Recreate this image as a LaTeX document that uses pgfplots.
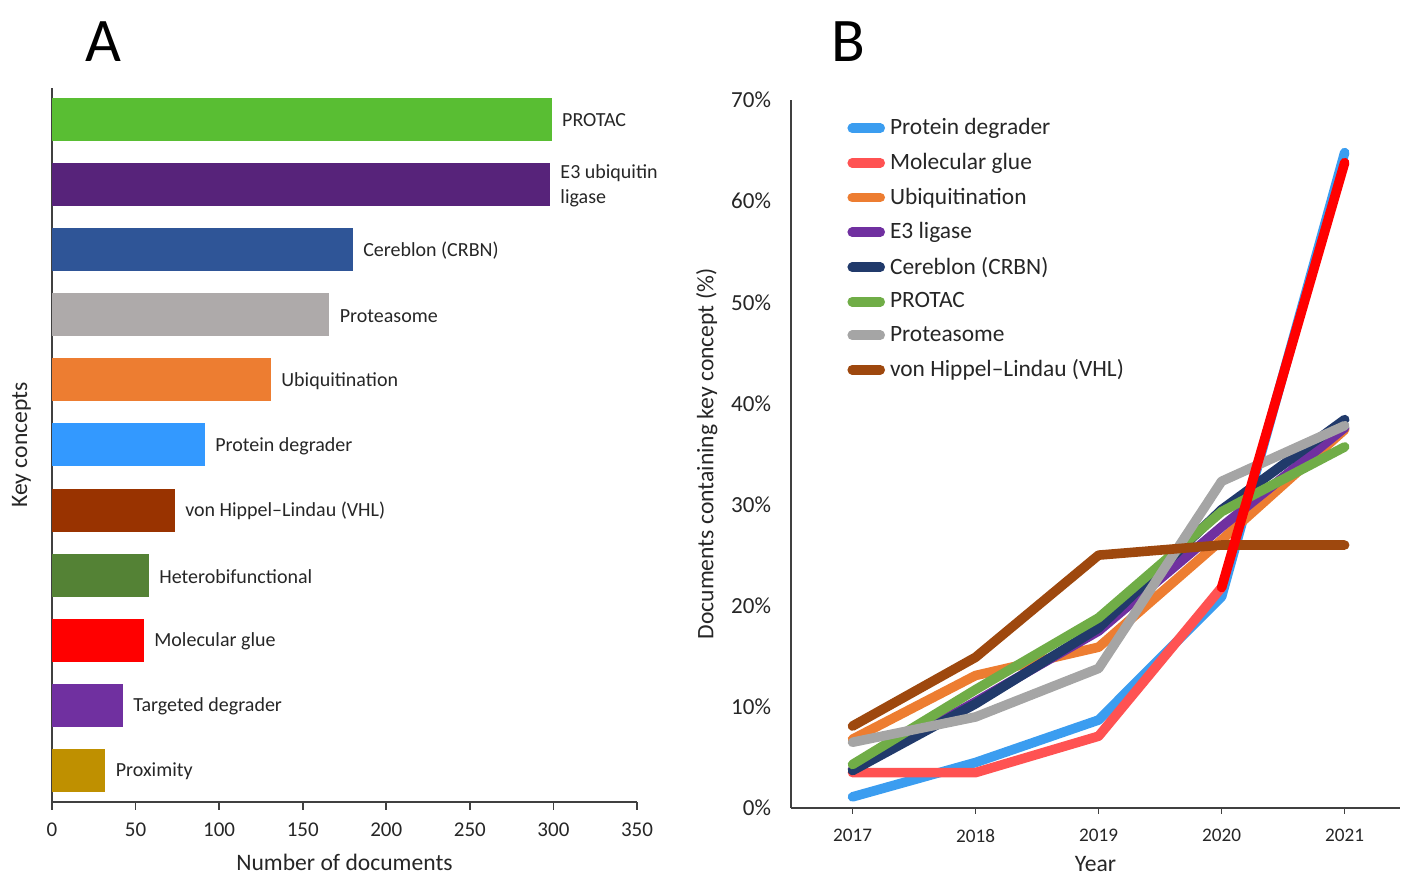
\documentclass[border=0pt]{standalone}
\usepackage{pgfplots}
\pgfplotsset{compat=1.18}
\usepackage{fontspec}
\setmainfont{Carlito}
\definecolor{axisgray}{RGB}{64,64,64}
\definecolor{labelgray}{RGB}{38,38,38}
% panel A
\definecolor{aPROTAC}{RGB}{89,190,51}
\definecolor{aE3}{RGB}{87,35,122}
\definecolor{aCRBN}{RGB}{47,85,151}
\definecolor{aProt}{RGB}{174,170,170}
\definecolor{aUbi}{RGB}{237,125,49}
\definecolor{aPD}{RGB}{51,153,255}
\definecolor{aVHL}{RGB}{153,51,0}
\definecolor{aHet}{RGB}{84,130,53}
\definecolor{aMG}{RGB}{255,0,0}
\definecolor{aTD}{RGB}{112,48,160}
\definecolor{aProx}{RGB}{191,144,0}
% panel B
\definecolor{bPD}{RGB}{59,157,240}
\definecolor{bMG}{RGB}{255,82,82}
\definecolor{bMGr}{RGB}{255,0,0}
\definecolor{bUbi}{RGB}{237,125,49}
\definecolor{bE3}{RGB}{112,48,160}
\definecolor{bCRBN}{RGB}{33,58,107}
\definecolor{bPROTAC}{RGB}{112,173,71}
\definecolor{bProt}{RGB}{165,165,165}
\definecolor{bVHL}{RGB}{158,72,14}
\begin{document}
\begin{tikzpicture}[x=1pt,y=1pt]
\useasboundingbox (0,0) rectangle (701,438);
\node[font=\fontsize{31}{31}\selectfont, inner sep=0pt] at (51.5,417) {A};
\node[font=\fontsize{31}{31}\selectfont, inner sep=0pt] at (424,417) {B};

\begin{axis}[
  at={(26pt,37pt)}, anchor=south west, scale only axis,
  width=292.5pt, height=357pt,
  xmin=0, xmax=350, ymin=-0.48, ymax=10.48,
  axis lines*=left,
  axis line style={line width=0.8pt, color=axisgray},
  xtick={0,50,...,350}, ytick=\empty,
  tick align=outside, major tick length=4pt,
  tick style={line width=0.8pt, color=axisgray},
  /pgf/number format/assume math mode=true,
  ticklabel style={font=\fontsize{10.5}{12}\selectfont, text=labelgray},
  x tick label style={yshift=-3pt},
  xlabel={Number of documents}, ylabel={Key concepts},
  label style={font=\fontsize{11.8}{14}\selectfont, text=labelgray},
  xlabel style={yshift=-2pt},
  ylabel style={yshift=3pt},
  clip=false,
]
\addplot[xbar, bar shift=0pt, bar width=0.66, draw=none, fill=aPROTAC] coordinates {(299,10)};
\addplot[xbar, bar shift=0pt, bar width=0.66, draw=none, fill=aE3] coordinates {(298,9)};
\addplot[xbar, bar shift=0pt, bar width=0.66, draw=none, fill=aCRBN] coordinates {(180,8)};
\addplot[xbar, bar shift=0pt, bar width=0.66, draw=none, fill=aProt] coordinates {(166,7)};
\addplot[xbar, bar shift=0pt, bar width=0.66, draw=none, fill=aUbi] coordinates {(131,6)};
\addplot[xbar, bar shift=0pt, bar width=0.66, draw=none, fill=aPD] coordinates {(91.5,5)};
\addplot[xbar, bar shift=0pt, bar width=0.66, draw=none, fill=aVHL] coordinates {(73.5,4)};
\addplot[xbar, bar shift=0pt, bar width=0.66, draw=none, fill=aHet] coordinates {(58,3)};
\addplot[xbar, bar shift=0pt, bar width=0.66, draw=none, fill=aMG] coordinates {(55,2)};
\addplot[xbar, bar shift=0pt, bar width=0.66, draw=none, fill=aTD] coordinates {(42.5,1)};
\addplot[xbar, bar shift=0pt, bar width=0.66, draw=none, fill=aProx] coordinates {(32,0)};
\begin{scope}[every node/.style={anchor=west, font=\fontsize{10}{12.5}\selectfont, text=labelgray, inner sep=0pt, xshift=5pt, yshift=-0.5pt}]
\node at (axis cs:299,10) {PROTAC};
\node[align=left] at (axis cs:298,9) {E3 ubiquitin\\ligase};
\node at (axis cs:180,8) {Cereblon (CRBN)};
\node at (axis cs:166,7) {Proteasome};
\node at (axis cs:131,6) {Ubiquitination};
\node at (axis cs:91.5,5) {Protein degrader};
\node at (axis cs:73.5,4) {von Hippel–Lindau (VHL)};
\node at (axis cs:58,3) {Heterobifunctional};
\node at (axis cs:55,2) {Molecular glue};
\node at (axis cs:42.5,1) {Targeted degrader};
\node at (axis cs:32,0) {Proximity};
\end{scope}
\end{axis}

\begin{axis}[
  at={(395.5pt,34pt)}, anchor=south west, scale only axis,
  width=304.5pt, height=354pt,
  xmin=2016.5, xmax=2021.45, ymin=0, ymax=70,
  axis lines*=left,
  axis line style={line width=0.8pt, color=axisgray},
  xtick={2017,2018,2019,2020,2021}, ytick={0,10,...,70},
  tick align=outside, major tick length=3pt,
  xtick style={line width=0.8pt, color=axisgray},
  ytick style={draw=none},
  /pgf/number format/assume math mode=true,
  x tick label style={/pgf/number format/1000 sep={}, font=\fontsize{9.6}{11}\selectfont, text=labelgray, yshift=-4pt},
  y tick label style={font=\fontsize{11.5}{13}\selectfont, text=labelgray, xshift=-3.5pt},
  yticklabel={\pgfmathprintnumber{\tick}\%},
  xlabel={Year}, ylabel={Documents containing key concept (\%)},
  label style={font=\fontsize{11.8}{14}\selectfont, text=labelgray},
  xlabel style={yshift=0pt},
  legend style={draw=none, fill=none, at={(0.092,0.98)}, anchor=north west,
    font=\fontsize{11.7}{14}\selectfont, text=labelgray, row sep=3.7pt, inner sep=0pt},
  legend cell align=left,
  legend image code/.code={\draw[#1, line cap=round] (2.5pt,0pt) -- (16.5pt,0pt); \path (17pt,0pt);},
  every axis plot/.append style={line width=4.8pt, line cap=round, line join=round},
]
\addplot[bPD] coordinates {(2017,1.1) (2018,4.5) (2019,8.7) (2020,20.9) (2021,64.8)};
\addlegendentry{Protein degrader}
\addplot[bMG] coordinates {(2017,3.5) (2018,3.5) (2019,7.1) (2020,21.8)};
\addlegendentry{Molecular glue}
\addplot[bUbi] coordinates {(2017,6.8) (2018,13.1) (2019,15.9) (2020,26.5) (2021,37.4)};
\addlegendentry{Ubiquitination}
\addplot[bE3] coordinates {(2017,3.8) (2018,10.5) (2019,17.5) (2020,27.8) (2021,37.6)};
\addlegendentry{E3 ligase}
\addplot[bCRBN] coordinates {(2017,3.7) (2018,10.3) (2019,17.8) (2020,29.5) (2021,38.4)};
\addlegendentry{Cereblon (CRBN)}
\addplot[bPROTAC] coordinates {(2017,4.3) (2018,11.7) (2019,18.8) (2020,29.3) (2021,35.7)};
\addlegendentry{PROTAC}
\addplot[bProt] coordinates {(2017,6.5) (2018,9.0) (2019,13.8) (2020,32.3) (2021,37.8)};
\addlegendentry{Proteasome}
\addplot[bVHL] coordinates {(2017,8.1) (2018,14.9) (2019,25.0) (2020,26.0) (2021,26.0)};
\addlegendentry{von Hippel–Lindau (VHL)}
\addplot[bMGr, forget plot] coordinates {(2020,21.8) (2021,63.8)};
\end{axis}
\end{tikzpicture}
\end{document}
